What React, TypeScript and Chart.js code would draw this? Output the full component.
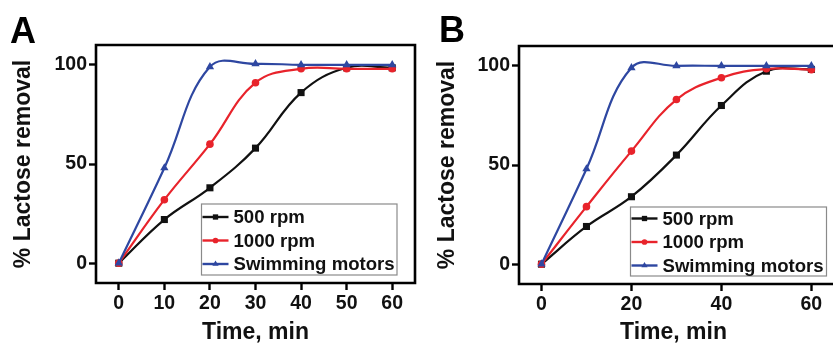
import React, { useEffect, useRef } from 'react';
import { Chart, registerables } from 'chart.js';

Chart.register(...registerables);

const FONT = '"Liberation Sans", Arial, Helvetica, sans-serif';

// ---- data ----
const timeMin = [0, 10, 20, 30, 40, 50, 60];

const a500rpm = [0, 22, 38, 58, 86, 98.5, 98.5];
const a1000rpm = [0, 32, 60, 91, 98, 98, 98];
const aSwimming = [0, 48, 99, 100.5, 100, 100, 100];

const b500rpm = [0, 19, 34, 55, 80, 97.3, 98.2];
const b1000rpm = [0, 29, 57, 83, 94, 98.5, 98];
const bSwimming = [0, 48, 99, 100, 100, 100, 100];

const xTicksA = [0, 10, 20, 30, 40, 50, 60];
const xTicksB = [0, 20, 40, 60];
const yTicks = [0, 50, 100];

const seriesLabels = ['500 rpm', '1000 rpm', 'Swimming motors'];
const seriesColors = ['#111111', '#e8232b', '#2e47a1'];
const seriesPointStyles = ['rect', 'circle', 'triangle'];
const seriesPointRadius = [5, 3.8, 4.8];

const yTitle = '% Lactose removal';
const xTitle = 'Time, min';

type PanelDef = {
  letter: string;
  left: number;
  width: number;
  padding: { left: number; right: number; top: number; bottom: number };
  yWidth: number;
  xHeight: number;
  xMin: number;
  xMax: number;
  xTicks: number[];
  series: number[][];
  yTitlePad: number;
  letterPos: [number, number];
  legendBox: { x: number; y: number; w: number; h: number };
  legendRows: number[];
  boxRight: boolean;
};

const panels: PanelDef[] = [
  {
    letter: 'A',
    left: 0,
    width: 420,
    padding: { left: 0, right: 4, top: 45, bottom: 0 },
    yWidth: 96,
    xHeight: 61,
    xMin: -5,
    xMax: 65,
    xTicks: xTicksA,
    series: [a500rpm, a1000rpm, aSwimming],
    yTitlePad: 12.5,
    letterPos: [10, 43],
    legendBox: { x: 201.5, y: 204, w: 195.5, h: 71 },
    legendRows: [217, 240.5, 264],
    boxRight: true,
  },
  {
    letter: 'B',
    left: 420,
    width: 413,
    padding: { left: 0, right: 0, top: 46, bottom: 0 },
    yWidth: 99,
    xHeight: 60,
    xMin: -5,
    xMax: 63.7,
    xTicks: xTicksB,
    series: [b500rpm, b1000rpm, bSwimming],
    yTitlePad: 16.5,
    letterPos: [19, 42],
    legendBox: { x: 210.5, y: 207, w: 196, h: 69 },
    legendRows: [218.5, 242, 265.5],
    boxRight: false,
  },
];

function drawMarker(ctx: CanvasRenderingContext2D, style: string, x: number, y: number, r: number) {
  ctx.beginPath();
  if (style === 'rect') {
    const s = Math.SQRT1_2 * r;
    ctx.rect(x - s, y - s, 2 * s, 2 * s);
  } else if (style === 'circle') {
    ctx.arc(x, y, r, 0, Math.PI * 2);
  } else {
    const w = (r * Math.sqrt(3)) / 2;
    ctx.moveTo(x, y - r);
    ctx.lineTo(x + w, y + r / 2);
    ctx.lineTo(x - w, y + r / 2);
    ctx.closePath();
  }
  ctx.fill();
}

const panelPlugin = {
  id: 'panelDecor',
  afterDraw(chart: any, _args: any, opts: any) {
    const { ctx, chartArea: ca } = chart;
    const def: PanelDef = opts.def;
    ctx.save();
    // frame
    ctx.strokeStyle = '#000';
    ctx.lineWidth = 2.6;
    ctx.lineCap = 'square';
    ctx.beginPath();
    if (def.boxRight) {
      ctx.rect(ca.left, ca.top, ca.right - ca.left, ca.bottom - ca.top);
    } else {
      ctx.moveTo(ca.right + 5, ca.top);
      ctx.lineTo(ca.left, ca.top);
      ctx.lineTo(ca.left, ca.bottom);
      ctx.lineTo(ca.right + 5, ca.bottom);
    }
    ctx.stroke();

    // panel letter
    ctx.fillStyle = '#000';
    ctx.font = `bold 36px ${FONT}`;
    ctx.textAlign = 'left';
    ctx.textBaseline = 'alphabetic';
    ctx.fillText(def.letter, def.letterPos[0], def.letterPos[1]);

    // legend
    const lb = def.legendBox;
    ctx.fillStyle = '#fff';
    ctx.fillRect(lb.x, lb.y, lb.w, lb.h);
    ctx.strokeStyle = '#8a8a8a';
    ctx.lineWidth = 1.2;
    ctx.lineCap = 'butt';
    ctx.strokeRect(lb.x, lb.y, lb.w, lb.h);
    ctx.font = `bold 18.6px ${FONT}`;
    ctx.textBaseline = 'middle';
    seriesLabels.forEach((label, i) => {
      const y = def.legendRows[i];
      const x0 = lb.x + 1;
      const x1 = lb.x + 27;
      ctx.strokeStyle = seriesColors[i];
      ctx.lineWidth = 2.4;
      ctx.beginPath();
      ctx.moveTo(x0, y);
      ctx.lineTo(x1, y);
      ctx.stroke();
      ctx.fillStyle = seriesColors[i];
      drawMarker(ctx, seriesPointStyles[i], (x0 + x1) / 2, y, seriesPointRadius[i] * 0.75);
      ctx.fillStyle = '#111';
      ctx.fillText(label, lb.x + 32, y + 1);
    });
    ctx.restore();
  },
};

function Panel({ def }: { def: PanelDef }) {
  const ref = useRef<HTMLCanvasElement | null>(null);
  useEffect(() => {
    if (!ref.current) return;
    const datasets = def.series.map((vals, i) => ({
      label: seriesLabels[i],
      data: timeMin.map((t, j) => ({ x: t, y: vals[j] })),
      borderColor: seriesColors[i],
      backgroundColor: seriesColors[i],
      borderWidth: 2.2,
      pointStyle: seriesPointStyles[i],
      pointRadius: seriesPointRadius[i],
      pointBorderWidth: 0,
      tension: 0.4,
      order: 2 - i,
    }));
    const tickFont = { family: FONT, size: 19.5, weight: 'bold' as const };
    const titleFont = { family: FONT, size: 23, weight: 'bold' as const, lineHeight: 1 };
    const chart = new Chart(ref.current, {
      type: 'line',
      data: { datasets },
      plugins: [panelPlugin],
      options: {
        animation: false,
        responsive: false,
        devicePixelRatio: 1,
        layout: { padding: def.padding },
        plugins: {
          legend: { display: false },
          tooltip: { enabled: false },
          panelDecor: { def },
        } as any,
        scales: {
          x: {
            type: 'linear',
            min: def.xMin,
            max: def.xMax,
            afterBuildTicks: (s: any) => {
              s.ticks = def.xTicks.map((v) => ({ value: v }));
            },
            afterFit: (s: any) => {
              s.height = def.xHeight;
            },
            grid: {
              display: true,
              drawOnChartArea: false,
              drawTicks: true,
              tickLength: 7,
              tickWidth: 2.4,
              tickColor: '#000',
            },
            border: { display: false },
            ticks: {
              autoSkip: false,
              maxRotation: 0,
              padding: 2,
              color: '#111',
              font: tickFont,
            },
            title: {
              display: true,
              text: xTitle,
              color: '#111',
              font: titleFont,
              padding: { top: 0, bottom: 0 },
            },
          },
          y: {
            type: 'linear',
            min: -10,
            max: 110,
            afterBuildTicks: (s: any) => {
              s.ticks = yTicks.map((v) => ({ value: v }));
            },
            afterFit: (s: any) => {
              s.width = def.yWidth;
            },
            grid: {
              display: true,
              drawOnChartArea: false,
              drawTicks: true,
              tickLength: 7,
              tickWidth: 2.4,
              tickColor: '#000',
            },
            border: { display: false },
            ticks: {
              autoSkip: false,
              padding: 2,
              color: '#111',
              font: tickFont,
            },
            title: {
              display: true,
              text: yTitle,
              color: '#111',
              font: titleFont,
              padding: { top: def.yTitlePad, bottom: 0 },
            },
          },
        },
      },
    } as any);
    return () => chart.destroy();
  }, [def]);
  return (
    <canvas
      ref={ref}
      width={def.width}
      height={344}
      style={{ position: 'absolute', left: def.left, top: 0, width: def.width, height: 344 }}
    />
  );
}

export default function App() {
  return (
    <div style={{ position: 'fixed', left: 0, top: 0, width: 833, height: 344, background: '#fff', overflow: 'hidden' }}>
      {panels.map((p) => (
        <Panel key={p.letter} def={p} />
      ))}
    </div>
  );
}
